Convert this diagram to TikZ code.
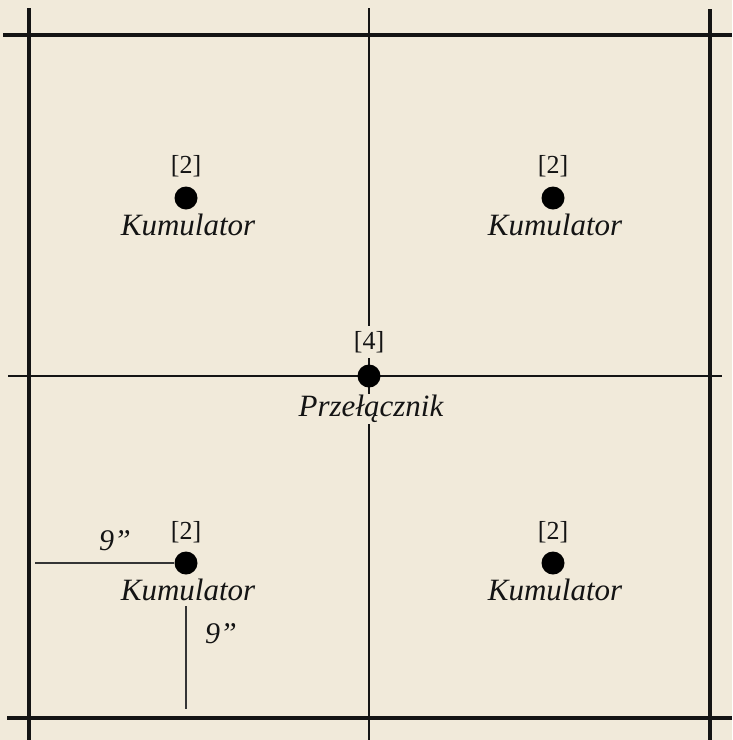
\documentclass[tikz,border=0pt]{standalone}
\usepackage{fontspec}
\setmainfont{Liberation Serif}
\definecolor{paper}{HTML}{F1EADA}
\definecolor{ink}{HTML}{141414}
\definecolor{dimink}{HTML}{353535}
\begin{document}
\begin{tikzpicture}[x=1pt,y=-1pt,
  gridline/.style={draw=ink,line width=3.4pt},
  midline/.style={draw=ink,line width=2.4pt},
  dimline/.style={draw=dimink,line width=2.8pt},
  dot/.style={circle,fill=black,minimum size=23pt,inner sep=0pt},
  num/.style={font=\fontsize{26}{28}\selectfont,text=ink,inner sep=1pt},
  lbl/.style={font=\fontsize{31}{34}\selectfont\itshape,text=ink,inner sep=1pt},
  dimlbl/.style={font=\fontsize{30}{32}\selectfont\itshape,text=ink,inner sep=0pt}]
\fill[paper] (0,0) rectangle (732,740);
\useasboundingbox (0,0) rectangle (732,740);
% grid
\coordinate (tl) at (3,35); \coordinate (tr) at (732,35);
\coordinate (bl) at (7,718); \coordinate (br) at (732,718);
\coordinate (lt) at (29,8); \coordinate (lb) at (29,740);
\coordinate (rt) at (710,9); \coordinate (rb) at (710,740);
\coordinate (mt) at (369,8); \coordinate (mb) at (369,740);
\coordinate (ml) at (8,376); \coordinate (mr) at (722,376);
\draw[gridline] (tl) -- (tr);
\draw[gridline] (bl) -- (br);
\draw[gridline] (lt) -- (lb);
\draw[gridline] (rt) -- (rb);
\draw[midline] (mt) -- (mb);
\draw[midline] (ml) -- (mr);
% dots
\node[dot] (k1) at (186,198) {};
\node[dot] (k2) at (553,198) {};
\node[dot] (sw) at (369,376) {};
\node[dot] (k3) at (186,563) {};
\node[dot] (k4) at (553,563) {};
% labels
\node[num] (n1) at (186,166) {[2]};
\node[num] (n2) at (553,166) {[2]};
\node[num,fill=paper,inner ysep=5pt] (n0) at (369,342) {[4]};
\node[num] (n3) at (186,532) {[2]};
\node[num] (n4) at (553,532) {[2]};
\node[lbl] (l1) at (188,225) {Kumulator};
\node[lbl] (l2) at (555,225) {Kumulator};
\node[lbl,fill=paper] (l0) at (371,409) {Przełącznik};
\node[lbl] (l3) at (188,590) {Kumulator};
\node[lbl] (l4) at (555,590) {Kumulator};
% dimensions
\coordinate (dh) at (35,563);
\draw[dimline] (dh) -- (k3.west);
\coordinate (dv1) at (186,606); \coordinate (dv2) at (186,709);
\draw[dimline] (dv1) -- (dv2);
\node[dimlbl] (d1) at (115,541) {9”};
\node[dimlbl] (d2) at (221,634) {9”};
\end{tikzpicture}
\end{document}
